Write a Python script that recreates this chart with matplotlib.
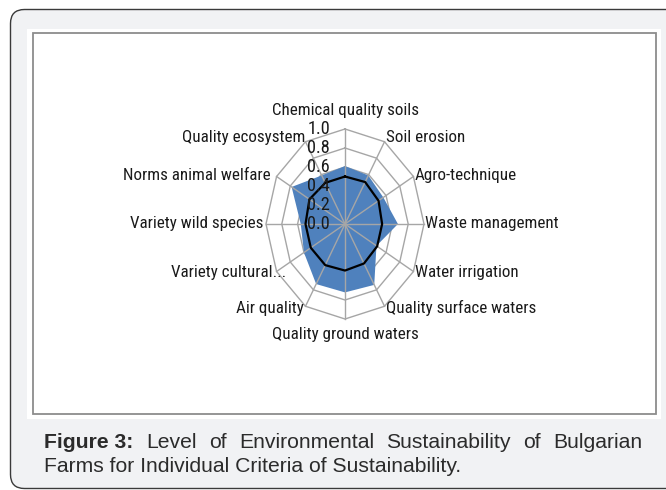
import matplotlib
matplotlib.use('Agg')
import matplotlib.pyplot as plt
import numpy as np
from matplotlib.patches import FancyBboxPatch, Rectangle
from matplotlib import font_manager as fm

categories = ['Chemical quality soils', 'Soil erosion', 'Agro-technique', 'Waste management',
              'Water irrigation', 'Quality surface waters', 'Quality ground waters', 'Air quality',
              'Variety cultural...', 'Variety wild species', 'Norms animal welfare', 'Quality ecosystem']
farm_level = [0.61, 0.59, 0.56, 0.67, 0.46, 0.74, 0.72, 0.73, 0.60, 0.56, 0.78, 0.59]
threshold = [0.50, 0.51, 0.49, 0.47, 0.47, 0.48, 0.49, 0.50, 0.50, 0.50, 0.52, 0.50]
r_ticks = [0.0, 0.2, 0.4, 0.6, 0.8, 1.0]
r_tick_labels = ['0.0', '0.2', '0.4', '0.6', '0.8', '1.0']
caption_line1 = ['Figure 3:', 'Level', 'of', 'Environmental', 'Sustainability', 'of', 'Bulgarian']
caption_line2 = 'Farms for Individual Criteria of Sustainability.'

W, H = 666, 490
PT = 0.72  # points per pixel at dpi 100

# pick a condensed sans font if one is installed
label_family, label_stretch = 'Liberation Sans', 'normal'
pref = ['Liberation Sans Narrow', 'Arial Narrow', 'Roboto Condensed', 'Open Sans Condensed',
        'Liberation Sans', 'Roboto', 'Open Sans', 'Noto Sans', 'DejaVu Sans', 'Lato', 'Inter']
found = False
for fam in pref:
    for f in fm.fontManager.ttflist:
        if f.name == fam and f.style == 'normal' and f.weight in (400, 'normal', 'regular'):
            if 'Narrow' in fam or 'Condensed' in fam:
                label_family, label_stretch, found = fam, 'normal', True
                break
            if f.stretch in ('condensed', 'semi-condensed', 'extra-condensed'):
                label_family, label_stretch, found = fam, f.stretch, True
                break
    if found:
        break

fig = plt.figure(figsize=(W / 100, H / 100), dpi=100)
fig.patch.set_facecolor('white')

bg = fig.add_axes([0, 0, 1, 1])
bg.set_xlim(0, W)
bg.set_ylim(H, 0)
bg.axis('off')
bg.add_patch(FancyBboxPatch((10.5, 9.5), 690, 479, boxstyle='round,pad=0,rounding_size=14',
                            fc='#f1f2f4', ec='#3a3a3a', lw=1))
bg.add_patch(Rectangle((27, 29), 634, 390, fc='white', ec='none'))
bg.add_patch(Rectangle((32.5, 33), 623, 380.5, fc='white', ec='#8c8c8c', lw=1.3))

fig.canvas.draw()
renderer = fig.canvas.get_renderer()


def fit_size(txt, target_px, **kw):
    t = fig.text(0, 0, txt, fontsize=10, **kw)
    w = t.get_window_extent(renderer).width
    t.remove()
    return 10 * target_px / w


cap_font = ['Liberation Sans', 'DejaVu Sans']
cap_size = fit_size(caption_line2, 420, family=cap_font)

texts = []
for i, w in enumerate(caption_line1):
    t = bg.text(0, 442.5, w, fontsize=cap_size, family=cap_font, color='#2b2b2b',
                fontweight='bold' if i == 0 else 'normal', ha='left', va='center')
    texts.append(t)
widths = [t.get_window_extent(renderer).width for t in texts]
x0, x1 = 44.5, 642.5
gap = (x1 - x0 - sum(widths)) / (len(caption_line1) - 1)
x = x0
for t, wd in zip(texts, widths):
    t.set_x(x)
    x += wd + gap
bg.text(x0, 466, caption_line2, fontsize=cap_size, family=cap_font, color='#2b2b2b',
        ha='left', va='center')

lab_kw = dict(family=[label_family, 'DejaVu Sans'], fontstretch=label_stretch)
lab_size = fit_size('Waste management', 132, **lab_kw)

# Radar chart
n = len(categories)
angles = np.arange(n) * 2 * np.pi / n
ang_c = np.append(angles, angles[0])

ax = fig.add_axes([266 / W, 1 - 319 / H, 158 / W, 190 / H], projection='polar')
ax.set_aspect('auto')
ax.set_theta_zero_location('N')
ax.set_theta_direction(-1)
ax.set_ylim(0, 1)
ax.grid(False)
ax.spines['polar'].set_visible(False)
ax.set_xticks([])
ax.set_yticks([])
ax.patch.set_alpha(0)

for lvl in r_ticks[1:]:
    ax.plot(ang_c, [lvl] * (n + 1), color='#a6a6a6', lw=1.0, zorder=1, clip_on=False)
ax.fill(ang_c, farm_level + farm_level[:1], color='#4f81bd', lw=0, zorder=2)
for a in angles:
    ax.plot([a, a], [0, 1], color='#a6a6a6', lw=1.0, zorder=3, clip_on=False)
ax.plot(ang_c, threshold + threshold[:1], color='black', lw=1.6, zorder=4)

offsets = [(0, 19, 'center'), (1, 4.5, 'left'), (1, 1.5, 'left'), (1, 1, 'left'),
           (2, -0.5, 'left'), (1.5, -2, 'left'), (0, -15, 'center'), (-1.5, -2, 'right'),
           (10, -0.5, 'right'), (-3, 1, 'right'), (-5.6, 1.5, 'right'), (-0.5, 4.5, 'right')]
for a, lab, (dx, dy, ha) in zip(angles, categories, offsets):
    ax.annotate(lab, xy=(a, 1.0), xytext=(dx * PT, dy * PT), textcoords='offset points',
                ha=ha, va='center', fontsize=lab_size, color='#1a1a1a',
                annotation_clip=False, **lab_kw)

for r, lab in zip(r_ticks, r_tick_labels):
    ax.annotate(lab, xy=(0, r), xytext=(-15 * PT, 0), textcoords='offset points',
                ha='right', va='center', fontsize=lab_size * 1.08, color='#1a1a1a',
                annotation_clip=False, zorder=5, **lab_kw)

fig.savefig('out.png', dpi=100, facecolor=fig.get_facecolor())
